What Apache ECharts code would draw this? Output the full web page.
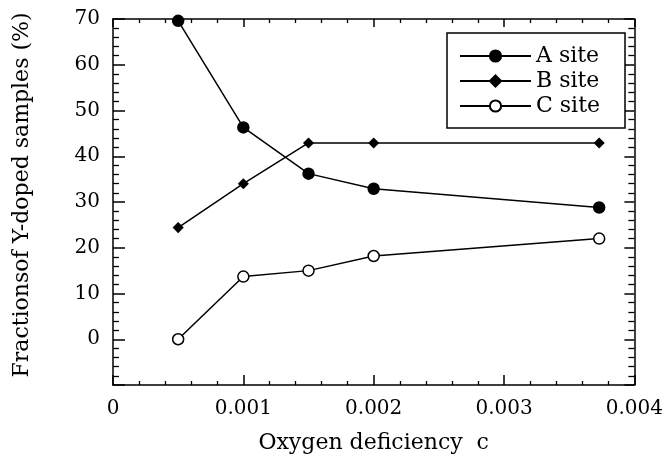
<!DOCTYPE html>
<html>
<head>
<meta charset="utf-8">
<script src="https://cdn.jsdelivr.net/npm/echarts@6/dist/echarts.min.js"></script>
<style>
  html, body { margin: 0; padding: 0; background: #fff; }
  #chart { width: 666px; height: 459px; }
</style>
</head>
<body>
<div id="chart"></div>
<script>
// Data
var xValues = [0.0005, 0.001, 0.0015, 0.002, 0.00373];
var seriesNames = ['A site', 'B site', 'C site'];
var aSite = [69.6, 46.3, 36.2, 32.9, 28.8];
var bSite = [24.4, 34.0, 42.9, 42.9, 42.9];
var cSite = [0, 13.7, 15.0, 18.2, 22.0];
var xTicks = [0, 0.001, 0.002, 0.003, 0.004];
var yTicks = [0, 10, 20, 30, 40, 50, 60, 70];

function pairs(xs, ys) { return xs.map(function (x, i) { return [x, ys[i]]; }); }

var FONT = 'DejaVu Serif';
var INK = '#000';

var chart = echarts.init(document.getElementById('chart'), null, { renderer: 'canvas' });

function xAxisBase(pos, showLabel) {
  return {
    type: 'value', position: pos, min: 0, max: 0.004, interval: 0.001,
    axisLine: { show: true, onZero: false, lineStyle: { color: INK, width: 1.5 } },
    axisTick: { show: true, inside: true, length: pos === 'bottom' ? 10 : 8, lineStyle: { color: INK, width: 1.5 } },
    minorTick: { show: true, splitNumber: 5, length: 4, lineStyle: { color: INK, width: 1.3 } },
    splitLine: { show: false },
    axisLabel: {
      show: showLabel, margin: 14, fontFamily: FONT, fontSize: 20, color: INK,
      formatter: function (v) {
        var s = v === 0 ? '0' : v.toFixed(3);
        return xTicks.some(function (t) { return Math.abs(t - v) < 1e-9; }) ? s : '';
      }
    }
  };
}
function yAxisBase(pos, showLabel) {
  return {
    type: 'value', position: pos, min: -10, max: 70, interval: 10,
    axisLine: { show: true, onZero: false, lineStyle: { color: INK, width: 1.5 } },
    axisTick: { show: true, inside: true, length: pos === 'left' ? 12 : 10, lineStyle: { color: INK, width: 1.5 } },
    minorTick: { show: true, splitNumber: 5, length: 6, lineStyle: { color: INK, width: 1.3 } },
    splitLine: { show: false },
    axisLabel: {
      show: showLabel, margin: 13, fontFamily: FONT, fontSize: 20, color: INK,
      formatter: function (v) { return yTicks.indexOf(v) >= 0 ? String(v) : ''; }
    }
  };
}

var xBottom = xAxisBase('bottom', true);
xBottom.name = 'Oxygen deficiency  c';
xBottom.nameLocation = 'middle';
xBottom.nameGap = 47;
xBottom.nameTextStyle = { fontFamily: FONT, fontSize: 22, color: INK };
var xTop = xAxisBase('top', false);

var yLeft = yAxisBase('left', true);
yLeft.name = 'Fractionsof Y-doped samples (%)';
yLeft.nameLocation = 'middle';
yLeft.nameGap = 80;
yLeft.nameTextStyle = { fontFamily: FONT, fontSize: 22, color: INK, padding: [0, 0, 0, 14] };
var yRight = yAxisBase('right', false);

function lineSeries(name, ys, symbol, size, fill) {
  return {
    name: name, type: 'line', xAxisIndex: 0, yAxisIndex: 0,
    data: pairs(xValues, ys),
    symbol: symbol, symbolSize: size, showSymbol: true,
    lineStyle: { color: INK, width: 1.5 },
    itemStyle: { color: fill, borderColor: INK, borderWidth: 1.5 },
    emphasis: { disabled: true },
    animation: false, z: 3
  };
}

chart.setOption({
  animation: false,
  backgroundColor: '#fff',
  grid: { left: 113, right: 24, top: 19, bottom: 73, containLabel: false },
  xAxis: [xBottom, xTop],
  yAxis: [yLeft, yRight],
  legend: {
    data: seriesNames,
    orient: 'vertical',
    left: 447, top: 33,
    itemWidth: 71, itemHeight: 14, itemGap: 3,
    padding: [12, 25, 11, 12],
    borderColor: INK, borderWidth: 1.5, backgroundColor: '#fff',
    textStyle: { fontFamily: FONT, fontSize: 22, color: INK, lineHeight: 20 },
    selectedMode: false
  },
  series: [
    lineSeries(seriesNames[0], aSite, 'circle', 11, INK),
    lineSeries(seriesNames[1], bSite, 'diamond', 9, INK),
    lineSeries(seriesNames[2], cSite, 'circle', 11, '#fff')
  ]
});
</script>
</body>
</html>
